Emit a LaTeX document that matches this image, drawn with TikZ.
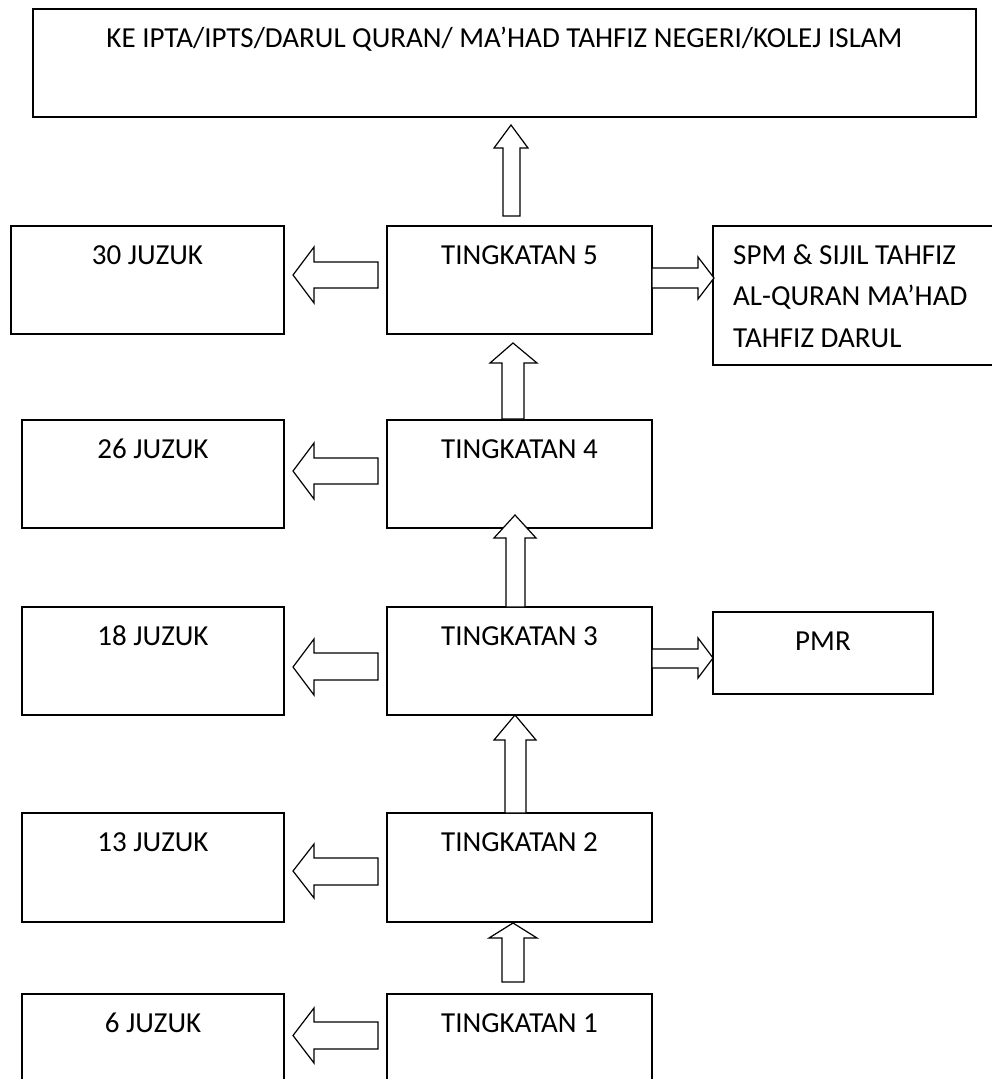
\documentclass[tikz,border=0pt]{standalone}
\usepackage{fontspec}
\setmainfont{Carlito}
\newcommand{\blkup}[8]{%
  \draw[blk] (#1,#8) -- (#1,#7) -- (#3,#7) -- (#5,#6) -- (#4,#7) -- (#2,#7) -- (#2,#8) -- cycle;}
\newcommand{\blkh}[7]{%
  \draw[blk] (#1,#4) -- (#2,#4) -- (#2,#6) -- (#3,{(#6+#7)/2}) -- (#2,#7) -- (#2,#5) -- (#1,#5) -- cycle;}
\begin{document}
\begin{tikzpicture}[x=1pt,y=-1pt,
  box/.style={draw=black, line width=1.2pt, rectangle, inner sep=0pt, outer sep=0pt},
  lbl/.style={inner sep=0pt, anchor=base, font=\fontsize{29}{35}\selectfont},
  lbll/.style={inner sep=0pt, anchor=base west, font=\fontsize{29}{35}\selectfont},
  blk/.style={draw=black, fill=white, line width=1.2pt, line join=miter}]
\useasboundingbox (0,0) rectangle (992,1079);
\clip (0,0) rectangle (992,1079);
\fill[white] (0,0) rectangle (992,1079);
% boxes
\node[box, minimum width=943pt, minimum height=108pt] (top) at (504.5,63) {};
\node[box, minimum width=273pt, minimum height=108pt] (j30) at (147.5,280) {};
\node[box, minimum width=265pt, minimum height=108pt] (t5) at (519.5,280) {};
\node[box, minimum width=287pt, minimum height=139pt] (spm) at (856.5,295.5) {};
\node[box, minimum width=262pt, minimum height=108pt] (j26) at (153,474) {};
\node[box, minimum width=265pt, minimum height=108pt] (t4) at (519.5,474) {};
\node[box, minimum width=262pt, minimum height=108pt] (j18) at (153,661) {};
\node[box, minimum width=265pt, minimum height=108pt] (t3) at (519.5,661) {};
\node[box, minimum width=220pt, minimum height=82pt] (pmr) at (823,653) {};
\node[box, minimum width=262pt, minimum height=109pt] (j13) at (153,867.5) {};
\node[box, minimum width=265pt, minimum height=109pt] (t2) at (519.5,867.5) {};
\node[box, minimum width=262pt, minimum height=108pt] (j6) at (153,1048) {};
\node[box, minimum width=265pt, minimum height=108pt] (t1) at (519.5,1048) {};
% labels
\node[lbl] at ([yshift=-38pt]top.north) {KE IPTA/IPTS/DARUL QURAN/ MA’HAD TAHFIZ NEGERI/KOLEJ ISLAM};
\node[lbl] at ([yshift=-38pt]j30.north) {30 JUZUK};
\node[lbl] at ([yshift=-38pt]t5.north) {TINGKATAN 5};
\node[lbll] at (733,264) {SPM \& SIJIL TAHFIZ};
\node[lbll] at (733,305.5) {AL-QURAN MA’HAD};
\node[lbll] at (733,347) {TAHFIZ DARUL};
\node[lbl] at ([yshift=-38pt]j26.north) {26 JUZUK};
\node[lbl] at ([yshift=-38pt]t4.north) {TINGKATAN 4};
\node[lbl] at ([yshift=-38pt]j18.north) {18 JUZUK};
\node[lbl] at ([yshift=-38pt]t3.north) {TINGKATAN 3};
\node[lbl] at ([yshift=-38pt]pmr.north) {PMR};
\node[lbl] at ([yshift=-38pt]j13.north) {13 JUZUK};
\node[lbl] at ([yshift=-38pt]t2.north) {TINGKATAN 2};
\node[lbl] at ([yshift=-38pt]j6.north) {6 JUZUK};
\node[lbl] at ([yshift=-38pt]t1.north) {TINGKATAN 1};
% up arrows
\blkup{503}{520}{494}{528}{511}{125}{148}{216}
\blkup{502}{524}{490}{537}{513}{343}{363}{419}
\blkup{506}{525}{494}{536}{515}{515}{538}{607}
\blkup{505}{526}{494}{536}{515}{715}{740}{813}
\blkup{502}{524}{489}{537}{513}{923}{938}{982}
% left arrows
\blkh{378}{314}{293}{262}{288}{247}{303}
\blkh{378}{314}{293}{458}{484}{443}{499}
\blkh{378}{314}{293}{653}{680}{639}{695}
\blkh{378}{314}{293}{858}{885}{844}{898}
\blkh{378}{314}{293}{1022}{1049}{1008}{1063}
% right arrows
\blkh{652}{698}{714}{268}{288}{257}{299}
\blkh{652}{698}{713}{649}{668}{638}{678}
\end{tikzpicture}
\end{document}
